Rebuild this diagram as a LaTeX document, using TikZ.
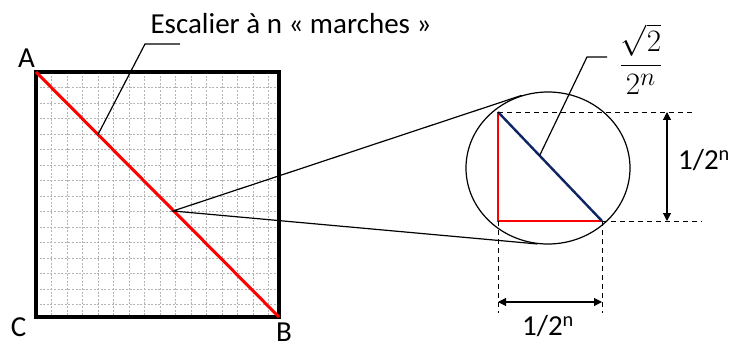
\documentclass[tikz,border=0pt]{standalone}
\usepackage{amsmath}
\usepackage{fontspec}
\setmainfont{Carlito}
\usepackage{tikz}
\usetikzlibrary{arrows.meta,positioning,shapes.geometric}
\definecolor{stairred}{HTML}{FF0000}
\definecolor{navy}{HTML}{0E2463}
\definecolor{gridgray}{HTML}{B4B4B4}
\tikzset{
  lbl/.style={inner sep=0pt,font=\fontsize{29}{34}\selectfont},
  leader/.style={line width=1.2pt,draw=black},
  guide/.style={line width=0.9pt,dash pattern=on 5pt off 4pt},
  dimarrow/.style={{Triangle[length=8pt,width=8pt]}-{Triangle[length=8pt,width=8pt]},line width=1.1pt},
  lens/.style={ellipse,draw,line width=1.2pt,minimum width=164pt,minimum height=152pt,inner sep=0pt},
  gridline/.style={gridgray,line width=0.5pt,dash pattern=on 2pt off 1.6pt}
}

\begin{document}
\begin{tikzpicture}[x=1pt,y=-1pt]
\useasboundingbox (0,0) rectangle (737,345);
% square with grid
\coordinate (A) at (36,72);
\coordinate (B) at (279,317);
\foreach \k in {1,...,15} {
  \draw[gridline] ({36+15.5*\k},72) -- ({36+15.5*\k},317);
  \draw[gridline] (36,{72+15.5*\k}) -- (279,{72+15.5*\k});
}
\draw[line width=3.5pt] (A) rectangle (B);
\draw[stairred,line width=3pt] (A) -- (B);
\node[lbl] (labA) at (26.5,58) {A};
\node[lbl] (labC) at (18.5,327.5) {C};
\node[lbl] (labB) at (284,332) {B};
% leader to the title
\coordinate (foot) at (98,134.5);
\coordinate (knee) at (145,44);
\coordinate (kneeend) at (180,44);
\draw[leader] (foot) -- (knee) -- (kneeend);
\node[lbl] (title) at (291,24) {Escalier à n « marches »};
% magnified step
\node[lens] (lens) at (548,168) {};
\coordinate (mid) at (173,211);
\draw[leader] (lens.110) -- (mid) -- (lens.262);
\coordinate (T1) at (498,112);
\coordinate (T2) at (498,221);
\coordinate (T3) at (602,221);
\draw[stairred,line width=1.8pt] (T1) -- (T2) -- (T3);
\draw[navy,line width=2.4pt] (T1) -- (T3);
% guides
\coordinate (g1) at (695,112);
\coordinate (g2) at (702,221);
\coordinate (g3) at (498,313);
\coordinate (g4) at (602,313);
\draw[guide] (T1) -- (g1);
\draw[guide] (T3) -- (g2);
\draw[guide] (T2) -- (g3);
\draw[guide] (T3) -- (g4);
% dimensions
\coordinate (v1) at (667,112);
\coordinate (v2) at (667,221);
\draw[dimarrow] (v1) -- (v2);
\node[lbl] (vlab) at (704,160) {1/2\textsuperscript{n}};
\coordinate (h1) at (498,302);
\coordinate (h2) at (602,302);
\draw[dimarrow] (h1) -- (h2);
\node[lbl] (hlab) at (548,326) {1/2\textsuperscript{n}};
% hypotenuse length
\coordinate (hfoot) at (539.6,155.6);
\coordinate (hknee) at (587,57);
\coordinate (hend) at (607,57);
\draw[leader] (hfoot) -- (hknee) -- (hend);
\node[lbl] (frac) at (641,59) {\scalebox{1.25}{$\dfrac{\sqrt{2}}{2^{n}}$}};
\end{tikzpicture}
\end{document}
